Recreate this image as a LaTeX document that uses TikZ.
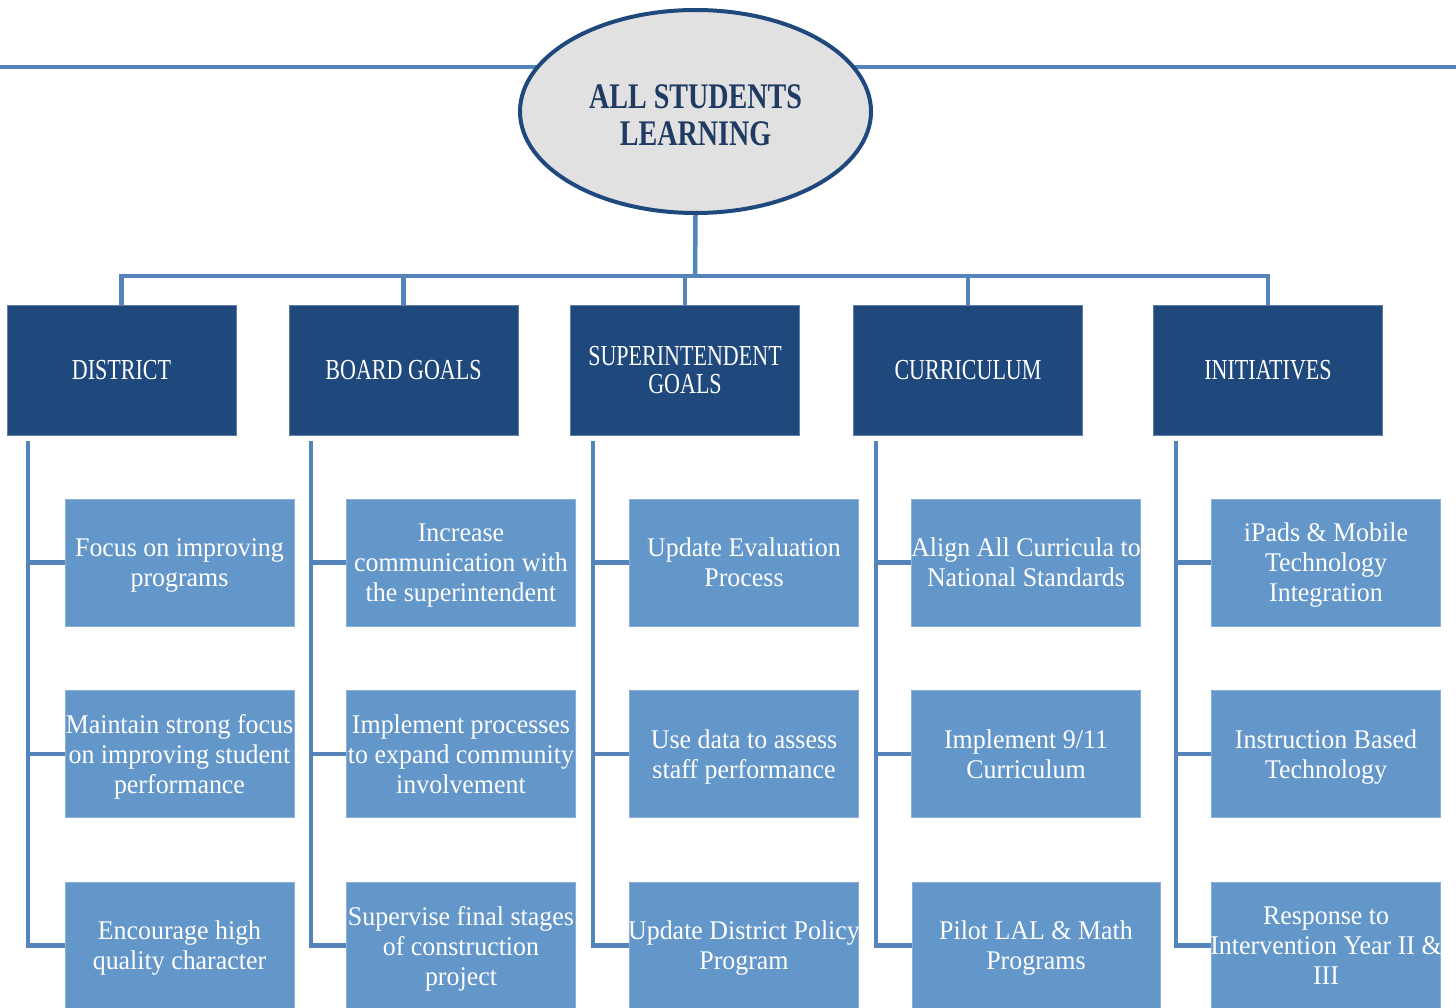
\documentclass[tikz,border=0pt]{standalone}
\usepackage{fontspec}
\setmainfont{Liberation Serif}[FakeStretch=0.96]
\newfontfamily\hdfont{Liberation Serif}[FakeStretch=0.76]
\newfontfamily\elfont{Liberation Serif}[FakeStretch=0.78]
\usetikzlibrary{shapes.geometric}
\definecolor{navy}{HTML}{1F497D}
\definecolor{boxblue}{HTML}{6396C9}
\definecolor{linkblue}{HTML}{5584BA}
\definecolor{ellfill}{HTML}{E1E1E1}
\definecolor{elltext}{HTML}{1F3A63}
\begin{document}
\begin{tikzpicture}[x=1pt,y=-1pt,
  hdbox/.style={rectangle, fill=navy, draw=navy!70!white, line width=0.8pt,
    minimum width=229pt, minimum height=130pt, inner xsep=-8pt, inner ysep=0pt,
    align=center, text=white, text depth=0pt,
    font=\hdfont\fontsize{29}{28}\selectfont},
  itembox/.style={rectangle, fill=boxblue, draw=boxblue!75!white, line width=0.8pt,
    minimum width=229pt, minimum height=127pt, inner xsep=-8pt, inner ysep=0pt,
    align=center, text=white, text depth=0pt,
    font=\fontsize{27}{30}\selectfont},
  link/.style={draw=linkblue, line width=4.5pt},
]
\useasboundingbox (0,0) rectangle (1456,1008);

% top background line
\coordinate (tl) at (0,67);
\coordinate (tr) at (1456,67);
\draw[link, line width=4pt] (tl) -- (tr);

% root
\node[ellipse, draw=navy, line width=4pt, fill=ellfill, minimum width=351pt,
  minimum height=203pt, inner sep=0pt] (root) at (695.5,111.5) {};
\node[align=center, text=elltext, inner sep=0pt,
  font=\elfont\bfseries\fontsize{36}{37}\selectfont] (roottitle)
  at ([yshift=-4pt]root.center) {ALL STUDENTS\\LEARNING};

% headers
\node[hdbox] (h1) at (121.5,370) {DISTRICT};
\node[hdbox] (h2) at (403.5,370) {BOARD GOALS};
\node[hdbox] (h3) at (685,370) {SUPERINTENDENT\\GOALS};
\node[hdbox] (h4) at (968,370) {CURRICULUM};
\node[hdbox] (h5) at (1268,370) {INITIATIVES};

% bus
\coordinate (bus) at (695,276);
\draw[link] (root.south) -- (bus);
\draw[link] (h1.north) -- (h1.north |- bus) -| (h5.north);
\draw[link] (h2.north) -- (h2.north |- bus);
\draw[link] (h3.north) -- (h3.north |- bus);
\draw[link] (h4.north) -- (h4.north |- bus);

% items
\node[itembox] (a1) at (179.5,562.5) {Focus on improving\\programs};
\node[itembox] (a2) at (179.5,754) {Maintain strong focus\\on improving student\\performance};
\node[itembox] (a3) at (179.5,945.5) {Encourage high\\quality character};

\node[itembox] (b1) at (461,562.5) {Increase\\communication with\\the superintendent};
\node[itembox] (b2) at (461,754) {Implement processes\\to expand community\\involvement};
\node[itembox] (b3) at (461,945.5) {Supervise final stages\\of construction\\project};

\node[itembox] (c1) at (744,562.5) {Update Evaluation\\Process};
\node[itembox] (c2) at (744,754) {Use data to assess\\staff performance};
\node[itembox] (c3) at (744,945.5) {Update District Policy\\Program};

\node[itembox] (d1) at (1026,562.5) {Align All Curricula to\\National Standards};
\node[itembox] (d2) at (1026,754) {Implement 9/11\\Curriculum};
\node[itembox, minimum width=248pt] (d3) at (1036,945.5) {Pilot LAL \& Math\\Programs};

\node[itembox] (e1) at (1326,562.5) {iPads \& Mobile\\Technology\\Integration};
\node[itembox] (e2) at (1326,754) {Instruction Based\\Technology};
\node[itembox] (e3) at (1326,945.5) {Response to\\Intervention Year II \&\\III};

% column connectors
\coordinate (v1) at (28,441);
\coordinate (v2) at (311,441);
\coordinate (v3) at (593,441);
\coordinate (v4) at (876,441);
\coordinate (v5) at (1176,441);
\foreach \v/\c in {v1/a, v2/b, v3/c, v4/d, v5/e}{
  \draw[link] (\v) |- (\c3.west);
  \draw[link] (\v |- \c1.west) -- (\c1.west);
  \draw[link] (\v |- \c2.west) -- (\c2.west);
}
\end{tikzpicture}
\end{document}
